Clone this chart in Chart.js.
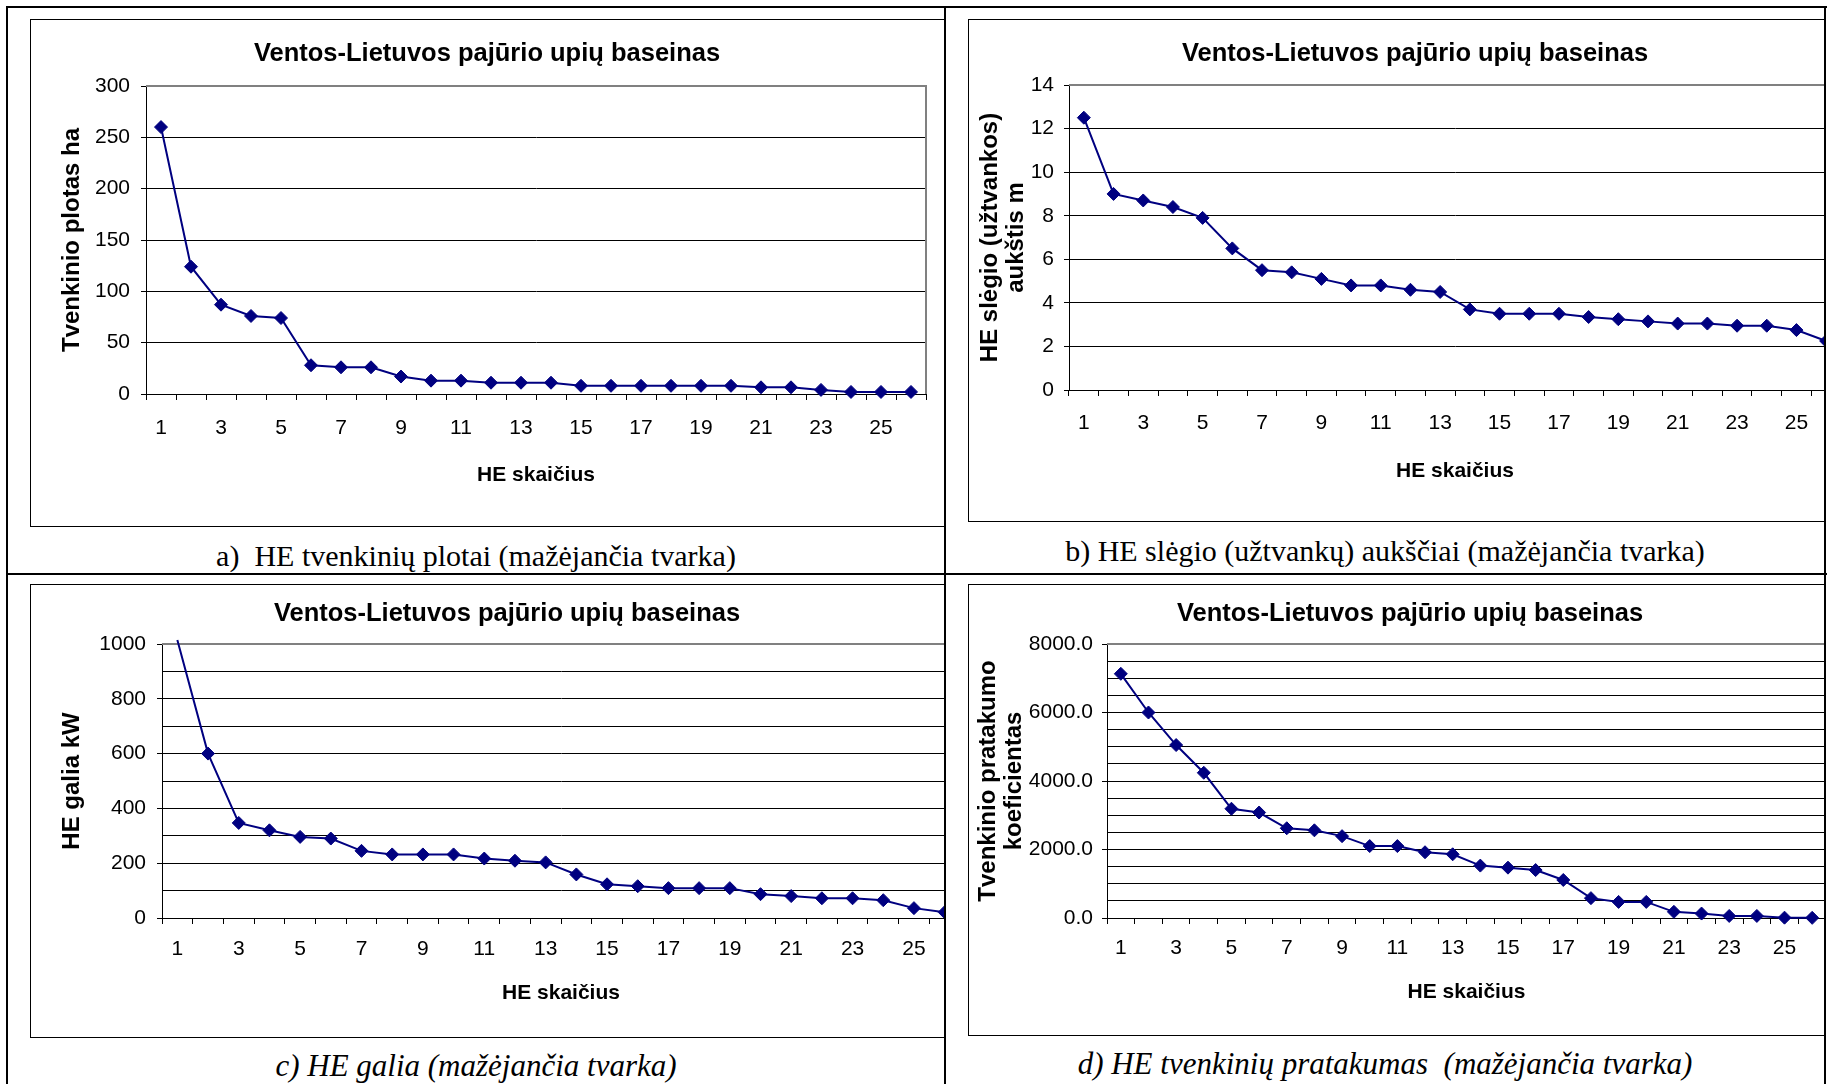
<!DOCTYPE html>
<html lang="lt">
<head>
<meta charset="utf-8">
<title>Ventos-Lietuvos pajūrio upių baseinas</title>
<script src="https://cdn.jsdelivr.net/npm/chart.js@4.4.1/dist/chart.umd.min.js"></script>
<style>
    html, body { margin: 0; padding: 0; width: 1827px; height: 1084px; overflow: hidden; background: #fff; }
    .linija { position: absolute; background: #000; }
    .langas { position: absolute; overflow: hidden; }
    .langas canvas { position: absolute; left: 0; top: 0; }
    .remelis { position: absolute; border: 1px solid #000; box-sizing: border-box; pointer-events: none; }
    .parasas { position: absolute; text-align: center; white-space: nowrap; color: #000;
               font-family: 'Liberation Serif', 'Times New Roman', serif; font-size: 30px; line-height: 36px; }
    .parasas.kursyvas { font-style: italic; font-size: 31px; }
</style>
</head>
<body>

<!-- lentelės linijos -->
<div class="linija" style="left:6px;top:6px;width:1821px;height:2px"></div>
<div class="linija" style="left:6px;top:6px;width:2px;height:1078px"></div>
<div class="linija" style="left:944px;top:6px;width:2px;height:1078px"></div>
<div class="linija" style="left:1824px;top:6px;width:2px;height:1078px"></div>
<div class="linija" style="left:6px;top:573px;width:1821px;height:2px"></div>

<!-- grafikai -->
<div class="langas" style="left:30px;top:19px;width:914px;height:507px"><canvas id="grafikasPlotai"></canvas></div>
<div class="remelis" style="left:30px;top:19px;width:915px;height:508px"></div>

<div class="langas" style="left:968px;top:19px;width:856px;height:502px"><canvas id="grafikasAukstis"></canvas></div>
<div class="remelis" style="left:968px;top:19px;width:858px;height:503px"></div>

<div class="langas" style="left:30px;top:584px;width:914px;height:453px"><canvas id="grafikasGalia"></canvas></div>
<div class="remelis" style="left:30px;top:584px;width:915px;height:454px"></div>

<div class="langas" style="left:968px;top:584px;width:856px;height:451px"><canvas id="grafikasPratakumas"></canvas></div>
<div class="remelis" style="left:968px;top:584px;width:858px;height:452px"></div>

<!-- parašai po grafikais -->
<div class="parasas" style="left:8px;top:538px;width:936px">a)&nbsp; HE tvenkinių plotai (mažėjančia tvarka)</div>
<div class="parasas" style="left:946px;top:533px;width:878px">b) HE slėgio (užtvankų) aukščiai (mažėjančia tvarka)</div>
<div class="parasas kursyvas" style="left:8px;top:1048px;width:936px">c) HE galia (mažėjančia tvarka)</div>
<div class="parasas kursyvas" style="left:946px;top:1046px;width:878px">d) HE tvenkinių pratakumas&nbsp; (mažėjančia tvarka)</div>

<script>
/* ---- Duomenys ---- */
const heNumeriai = ['1', '2', '3', '4', '5', '6', '7', '8', '9', '10', '11', '12', '13',
    '14', '15', '16', '17', '18', '19', '20', '21', '22', '23', '24', '25', '26'];

// a) tvenkinio plotas, ha
const tvenkiniuPlotai = [260, 124, 87, 76, 74, 28, 26, 26, 17, 13, 13, 11, 11,
    11, 8, 8, 8, 8, 8, 8, 6.5, 6.5, 4, 2, 2, 2];

// b) slėgio (užtvankos) aukštis, m
const slegioAukstis = [12.5, 9.0, 8.7, 8.4, 7.9, 6.5, 5.5, 5.4, 5.1, 4.8, 4.8, 4.6, 4.5,
    3.7, 3.5, 3.5, 3.5, 3.35, 3.25, 3.15, 3.05, 3.05, 2.95, 2.95, 2.75, 2.25];

// c) HE galia, kW
const heGalia = [1015, 600, 347, 320, 296, 290, 245, 232, 232, 232, 217, 209, 203,
    159, 123, 116, 109, 109, 109, 87, 80, 72, 72, 65, 36, 21];

// d) tvenkinio pratakumo koeficientas
const pratakumas = [7130, 6000, 5050, 4240, 3190, 3080, 2620, 2560, 2390, 2100, 2100, 1920, 1860,
    1530, 1470, 1400, 1110, 580, 470, 470, 180, 130, 60, 60, 10, 5];

const pavadinimas = 'Ventos-Lietuvos pajūrio upių baseinas';
const asiesXPavadinimas = 'HE skaičius';

Chart.defaults.font.family = "'Liberation Sans', Arial, sans-serif";
Chart.defaults.color = '#000';

// pilkas braižymo srities rėmelis (viršus ir dešinė)
const remelisPlugin = {
    id: 'remelis',
    beforeDatasetsDraw(chart) {
        const a = chart.chartArea;
        const ctx = chart.ctx;
        ctx.save();
        ctx.strokeStyle = '#808080';
        ctx.lineWidth = 2;
        ctx.beginPath();
        ctx.moveTo(a.left, a.top);
        ctx.lineTo(a.right, a.top);
        ctx.lineTo(a.right, a.bottom);
        ctx.stroke();
        ctx.restore();
    }
};

// Sukuria vieną linijinį grafiką
function plotarGrafico(id, reiksmes, n) {
    const canvas = document.getElementById(id);
    canvas.width = n.plotis;
    canvas.height = n.aukstis;

    const config = {
        type: 'line',
        data: {
            labels: heNumeriai,
            datasets: [{
                data: reiksmes,
                borderColor: '#000080',
                backgroundColor: '#000080',
                borderWidth: 2,
                tension: 0,
                pointStyle: 'rectRot',
                pointRadius: function (c) { return c.raw > n.yMax ? 0 : 6.5; },
                pointBorderWidth: 1,
                pointBorderColor: '#000080',
                pointBackgroundColor: '#000080',
                clip: false
            }]
        },
        options: {
            responsive: false,
            animation: false,
            layout: { padding: { left: n.krastas, right: n.krastas, top: 0, bottom: 0 } },
            plugins: {
                legend: { display: false },
                tooltip: { enabled: false },
                title: {
                    display: true,
                    text: pavadinimas,
                    color: '#000',
                    font: { size: 25.5, weight: 'bold' },
                    padding: { top: n.pavVirsus, bottom: n.pavApacia }
                }
            },
            scales: {
                x: {
                    offset: true,
                    grid: { offset: true, drawOnChartArea: false, drawTicks: true, tickLength: 6, color: '#000' },
                    border: { color: '#000', width: 1 },
                    ticks: {
                        autoSkip: false,
                        maxRotation: 0,
                        padding: n.xTarpas,
                        font: { size: 21 },
                        callback: function (v, i) { return i % 2 === 0 ? heNumeriai[i] : ''; }
                    },
                    title: {
                        display: true,
                        text: asiesXPavadinimas,
                        font: { size: 21, weight: 'bold' },
                        padding: { top: 0, bottom: n.xPavApacia }
                    },
                    afterFit: function (s) { s.height = n.xAukstis; }
                },
                y: {
                    min: 0,
                    max: n.yMax,
                    grid: {
                        color: '#000',
                        tickLength: 5,
                        tickColor: function (c) { return n.rodyti(c.tick.value) ? '#000' : 'rgba(0,0,0,0)'; }
                    },
                    border: { color: '#000', width: 1 },
                    ticks: {
                        stepSize: n.zingsnis,
                        maxTicksLimit: 30,
                        autoSkip: false,
                        padding: n.yTarpas,
                        font: { size: 21 },
                        callback: function (v) { return n.rodyti(v) ? n.formatas(v) : ''; }
                    },
                    title: {
                        display: true,
                        text: n.yPavadinimas,
                        font: { size: 24, weight: 'bold', lineHeight: n.yEilute },
                        padding: { top: n.yPavVirsus, bottom: 0 }
                    },
                    afterFit: function (s) { s.width = n.yPlotis; }
                }
            }
        },
        plugins: [remelisPlugin]
    };

    return new Chart(canvas.getContext('2d'), config);
}

const visos = function () { return true; };
const sveikas = function (v) { return String(v); };

plotarGrafico('grafikasPlotai', tvenkiniuPlotai, {
    plotis: 914, aukstis: 507, krastas: 18,
    pavVirsus: 19.7, pavApacia: 16.7,
    xAukstis: 132, xTarpas: 16, xPavApacia: 38,
    yPlotis: 98, yTarpas: 11, yPavVirsus: 9.6, yEilute: 1.2,
    yMax: 300, zingsnis: 50, rodyti: visos, formatas: sveikas,
    yPavadinimas: 'Tvenkinio plotas ha'
});

plotarGrafico('grafikasAukstis', slegioAukstis, {
    plotis: 894, aukstis: 502, krastas: 21,
    pavVirsus: 19.7, pavApacia: 15.7,
    xAukstis: 131, xTarpas: 15, xPavApacia: 37,
    yPlotis: 80, yTarpas: 10, yPavVirsus: -12, yEilute: 1.08,
    yMax: 14, zingsnis: 2, rodyti: visos, formatas: sveikas,
    yPavadinimas: ['HE slėgio (užtvankos)', 'aukštis m']
});

plotarGrafico('grafikasGalia', heGalia, {
    plotis: 954, aukstis: 453, krastas: 24,
    pavVirsus: 14.7, pavApacia: 14.7,
    xAukstis: 119, xTarpas: 13, xPavApacia: 31,
    yPlotis: 108, yTarpas: 11, yPavVirsus: 3.6, yEilute: 1.2,
    yMax: 1000, zingsnis: 100,
    rodyti: function (v) { return v % 200 === 0; }, formatas: sveikas,
    yPavadinimas: 'HE galia kW'
});

plotarGrafico('grafikasPratakumas', pratakumas, {
    plotis: 884, aukstis: 451, krastas: 26,
    pavVirsus: 14.7, pavApacia: 14.7,
    xAukstis: 117, xTarpas: 12, xPavApacia: 30,
    yPlotis: 113, yTarpas: 9, yPavVirsus: -19, yEilute: 1.08,
    yMax: 8000, zingsnis: 500,
    rodyti: function (v) { return v % 2000 === 0; },
    formatas: function (v) { return v.toFixed(1); },
    yPavadinimas: ['Tvenkinio pratakumo', 'koeficientas']
});
</script>
</body>
</html>
